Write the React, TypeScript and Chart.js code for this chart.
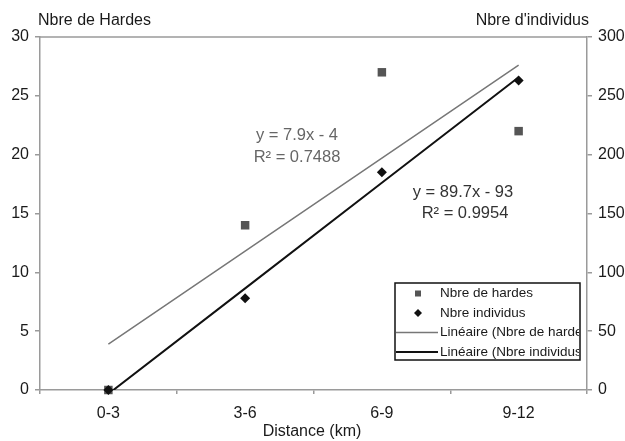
import React, { useEffect, useRef } from "react";
import { Chart, registerables } from "chart.js";

Chart.register(...registerables);

const categories = ["0-3", "3-6", "6-9", "9-12"];
const hardes = [0, 14, 27, 22];
const individus = [0, 78, 185, 263];
const trendHardes = [3.9, 11.8, 19.7, 27.6];
const trendIndividus = [-3.3, 86.4, 176.1, 265.8];
const leftTicks = [0, 5, 10, 15, 20, 25, 30];
const rightTicks = [0, 50, 100, 150, 200, 250, 300];
const legendLabels = [
  "Nbre de hardes",
  "Nbre individus",
  "Linéaire (Nbre de hardes)",
  "Linéaire (Nbre individus)",
];

const FONT = '"Liberation Sans", Arial, sans-serif';
const AXIS = "#9a9a9a";
const GRAY_MARK = "#555555";
const GRAY_LINE = "#777777";
const BLACK = "#111111";
const TEXT = "#1a1a1a";

const overlay = {
  id: "overlay",
  afterDraw(chart: any) {
    const ctx = chart.ctx;
    const a = chart.chartArea;
    ctx.save();
    // top border
    ctx.strokeStyle = AXIS;
    ctx.lineWidth = 1.5;
    ctx.beginPath();
    ctx.moveTo(a.left, a.top);
    ctx.lineTo(a.right, a.top);
    ctx.stroke();

    // axis titles
    ctx.fillStyle = TEXT;
    ctx.font = `16px ${FONT}`;
    ctx.textBaseline = "middle";
    ctx.textAlign = "left";
    ctx.fillText("Nbre de Hardes", 38, 21);
    ctx.textAlign = "right";
    ctx.fillText("Nbre d'individus", 589, 21);
    ctx.textAlign = "center";
    ctx.fillText("Distance (km)", 312, 432);

    // equations
    ctx.font = `16.5px ${FONT}`;
    ctx.fillStyle = "#666";
    ctx.fillText("y = 7.9x - 4", 297, 135);
    ctx.fillText("R² = 0.7488", 297, 157);
    ctx.fillStyle = "#333";
    ctx.fillText("y = 89.7x - 93", 463, 192);
    ctx.fillText("R² = 0.9954", 465, 213);

    // legend
    const bx = 395, by = 283, bw = 185, bh = 77;
    ctx.fillStyle = "#fff";
    ctx.fillRect(bx, by, bw, bh);
    ctx.strokeStyle = "#111";
    ctx.lineWidth = 1.5;
    ctx.strokeRect(bx, by, bw, bh);
    const rows = [293.5, 313, 332.5, 352];
    // markers
    ctx.fillStyle = GRAY_MARK;
    ctx.fillRect(418 - 3, rows[0] - 3, 6, 6);
    ctx.fillStyle = BLACK;
    ctx.beginPath();
    ctx.moveTo(418, rows[1] - 4);
    ctx.lineTo(422, rows[1]);
    ctx.lineTo(418, rows[1] + 4);
    ctx.lineTo(414, rows[1]);
    ctx.closePath();
    ctx.fill();
    ctx.strokeStyle = GRAY_LINE;
    ctx.lineWidth = 1.5;
    ctx.beginPath();
    ctx.moveTo(396, rows[2]);
    ctx.lineTo(438, rows[2]);
    ctx.stroke();
    ctx.strokeStyle = BLACK;
    ctx.lineWidth = 2;
    ctx.beginPath();
    ctx.moveTo(396, rows[3]);
    ctx.lineTo(438, rows[3]);
    ctx.stroke();
    ctx.beginPath();
    ctx.rect(bx, by, bw - 1, bh);
    ctx.clip();
    ctx.fillStyle = TEXT;
    ctx.font = `13.5px ${FONT}`;
    ctx.textAlign = "left";
    legendLabels.forEach((t, i) => ctx.fillText(t, 440, rows[i]));
    ctx.restore();
  },
};

export default function App() {
  const ref = useRef<HTMLCanvasElement>(null);
  useEffect(() => {
    document.body.style.margin = "0";
    const chart = new Chart(ref.current!, {
      type: "line",
      data: {
        labels: categories,
        datasets: [
          {
            label: legendLabels[0],
            data: hardes,
            yAxisID: "y",
            showLine: false,
            pointStyle: "rect",
            pointRadius: 6,
            backgroundColor: GRAY_MARK,
            borderColor: GRAY_MARK,
            borderWidth: 0,
            clip: false,
            order: 1,
          },
          {
            label: legendLabels[1],
            data: individus,
            yAxisID: "y1",
            showLine: false,
            pointStyle: "rectRot",
            pointRadius: 5,
            backgroundColor: BLACK,
            borderColor: BLACK,
            borderWidth: 0,
            clip: false,
            order: 0,
          },
          {
            label: legendLabels[2],
            data: trendHardes,
            yAxisID: "y",
            pointRadius: 0,
            borderColor: GRAY_LINE,
            borderWidth: 1.5,
            tension: 0,
            order: 3,
          },
          {
            label: legendLabels[3],
            data: trendIndividus,
            yAxisID: "y1",
            pointRadius: 0,
            borderColor: BLACK,
            borderWidth: 2,
            tension: 0,
            order: 2,
          },
        ],
      },
      options: {
        animation: false,
        responsive: false,
        maintainAspectRatio: false,
        layout: { padding: { top: 37, left: 0, right: 0, bottom: 0 } },
        plugins: { legend: { display: false }, tooltip: { enabled: false } },
        scales: {
          x: {
            type: "category",
            offset: true,
            grid: {
              display: true,
              offset: true,
              drawOnChartArea: false,
              drawTicks: true,
              tickLength: 4,
              color: AXIS,
              lineWidth: 1.5,
            },
            border: { display: true, color: AXIS, width: 1.5 },
            ticks: { color: TEXT, font: { family: FONT, size: 16 }, padding: 10, maxRotation: 0 },
            afterFit: (s: any) => {
              s.height = 51;
            },
          },
          y: {
            position: "left",
            min: 0,
            max: 30,
            afterBuildTicks: (s: any) => {
              s.ticks = leftTicks.map((v) => ({ value: v }));
            },
            grid: {
              drawOnChartArea: false,
              drawTicks: true,
              tickLength: 5,
              color: AXIS,
              lineWidth: 1.5,
            },
            border: { display: true, color: AXIS, width: 1.5 },
            ticks: { color: TEXT, font: { family: FONT, size: 16 }, padding: 6 },
            afterFit: (s: any) => {
              s.width = 40;
            },
          },
          y1: {
            position: "right",
            min: 0,
            max: 300,
            afterBuildTicks: (s: any) => {
              s.ticks = rightTicks.map((v) => ({ value: v }));
            },
            grid: {
              drawOnChartArea: false,
              drawTicks: true,
              tickLength: 5,
              color: AXIS,
              lineWidth: 1.5,
            },
            border: { display: true, color: AXIS, width: 1.5 },
            ticks: { color: TEXT, font: { family: FONT, size: 16 }, padding: 6 },
            afterFit: (s: any) => {
              s.width = 38;
            },
          },
        },
      },
      plugins: [overlay],
    });
    return () => chart.destroy();
  }, []);
  return (
    <div style={{ position: "absolute", left: 0, top: 0, width: 625, height: 441, background: "#fff" }}>
      <canvas ref={ref} width={625} height={441} style={{ display: "block" }} />
    </div>
  );
}
